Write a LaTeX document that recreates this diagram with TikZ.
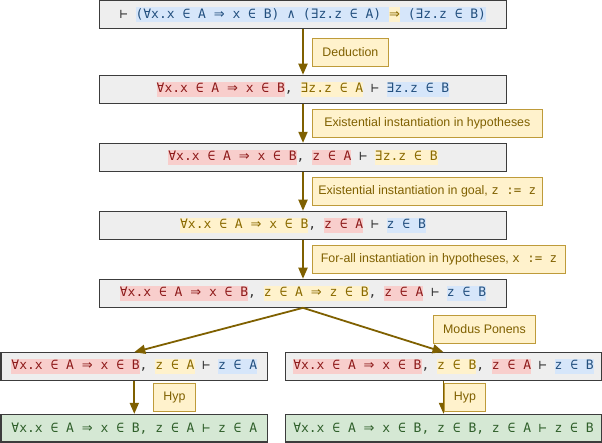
\documentclass[tikz,border=0pt]{standalone}
\usepackage{fontspec}
\setmainfont{Liberation Sans}
\newfontfamily\monof{DejaVu Sans Mono}
\newfontfamily\symf{DejaVu Sans}
\usetikzlibrary{arrows.meta}
\definecolor{boxgray}{HTML}{EEEEEE}
\definecolor{boxline}{HTML}{3C3C3C}
\definecolor{okgreen}{HTML}{D5E8D4}
\definecolor{txgreen}{HTML}{2F5F2A}
\definecolor{plain}{HTML}{333333}
\definecolor{hlred}{HTML}{F8CECC}
\definecolor{txred}{HTML}{8E1B1B}
\definecolor{hlblue}{HTML}{D6E6FA}
\definecolor{txblue}{HTML}{23507F}
\definecolor{hlyel}{HTML}{FFF2CC}
\definecolor{txyel}{HTML}{8A6A00}
\definecolor{lblfill}{HTML}{FFF2CC}
\definecolor{lblline}{HTML}{BE9B3A}
\definecolor{lbltext}{HTML}{7F6000}
\definecolor{arrc}{HTML}{7F6000}
\newcommand{\hstr}{\rule[-3.8pt]{0pt}{14.6pt}}
\newcommand{\hlbox}[3]{{\setlength{\fboxsep}{0pt}\colorbox{#1}{\hstr\textcolor{#2}{#3}}}}
\newcommand{\hlR}[1]{\hlbox{hlred}{txred}{#1}}
\newcommand{\hlB}[1]{\hlbox{hlblue}{txblue}{#1}}
\newcommand{\hlY}[1]{\hlbox{hlyel}{txyel}{#1}}
\newcommand{\imp}{{\symf ⇒}}
\begin{document}
\begin{tikzpicture}[x=1pt,y=-1pt,
  seqbox/.style={draw=boxline, fill=boxgray, line width=1.1pt, minimum width=407pt,
    minimum height=28pt, inner sep=0pt, text=plain,
    font=\monof\fontsize{13}{15}\selectfont},
  halfbox/.style={seqbox, minimum width=266.7pt, minimum height=27.6pt},
  widebox/.style={seqbox, minimum width=315.6pt, minimum height=27.6pt},
  donebox/.style={fill=okgreen, text=txgreen},
  lbl/.style={draw=lblline, fill=lblfill, text=lbltext, line width=1pt,
    minimum height=28pt, inner sep=0pt, font=\fontsize{12.4}{14}\selectfont},
  arr/.style={draw=arrc, line width=1.8pt, -{Triangle[width=9pt,length=11pt]}}
]
\useasboundingbox (0,0) rectangle (602,443);

\node[seqbox] (s1) at (303,14.7) {⊢ \hlB{(∀x.x ∈ A \imp{} x ∈ B) ∧ (∃z.z ∈ A)\ }\hlY{\imp}\hlB{\ (∃z.z ∈ B)}};
\node[seqbox] (s2) at (303,89.3) {\hlR{∀x.x ∈ A \imp{} x ∈ B}, \hlY{∃z.z ∈ A} ⊢ \hlB{∃z.z ∈ B}};
\node[seqbox] (s3) at (303,157.4) {\hlR{∀x.x ∈ A \imp{} x ∈ B}, \hlR{z ∈ A} ⊢ \hlY{∃z.z ∈ B}};
\node[seqbox] (s4) at (303,225.3) {\hlY{∀x.x ∈ A \imp{} x ∈ B}, \hlR{z ∈ A} ⊢ \hlB{z ∈ B}};
\node[seqbox] (s5) at (303,293.3) {\hlR{∀x.x ∈ A \imp{} x ∈ B}, \hlY{z ∈ A \imp{} z ∈ B}, \hlR{z ∈ A} ⊢ \hlB{z ∈ B}};
\node[halfbox] (l1) at (134.3,366.5) {\hlR{∀x.x ∈ A \imp{} x ∈ B}, \hlY{z ∈ A} ⊢ \hlB{z ∈ A}};
\node[widebox] (r1) at (443.5,366.5) {\hlR{∀x.x ∈ A \imp{} x ∈ B}, \hlY{z ∈ B}, \hlR{z ∈ A} ⊢ \hlB{z ∈ B}};
\node[halfbox, donebox] (l2) at (134.3,428.2) {∀x.x ∈ A \imp{} x ∈ B, z ∈ A ⊢ z ∈ A};
\node[widebox, donebox] (r2) at (443.5,428.2) {∀x.x ∈ A \imp{} x ∈ B, z ∈ B, z ∈ A ⊢ z ∈ B};

\draw[arr] (s1) -- (s2);
\draw[arr] (s2) -- (s3);
\draw[arr] (s3) -- (s4);
\draw[arr] (s4) -- (s5);
\draw[arr] (s5.south) -- (l1.north);
\draw[arr] (s5.south) -- (r1.north);
\draw[arr] (l1) -- (l2);
\draw[arr] (r1) -- (r2);

\node[lbl, minimum width=75.8pt] (t1) at (350.4,52.3) {Deduction};
\node[lbl, minimum width=230pt] (t2) at (427.3,123.2) {Existential instantiation in hypotheses};
\node[lbl, minimum width=230pt] (t3) at (427.3,191.3) {Existential instantiation in goal, {\monof z := z}};
\node[lbl, minimum width=253.4pt] (t4) at (439,259.2) {For-all instantiation in hypotheses, {\monof x := z}};
\node[lbl, minimum width=102.4pt, minimum height=27.6pt] (t5) at (484.5,329.5) {Modus Ponens};
\node[lbl, minimum width=42.4pt] (t6) at (174.5,397.7) {Hyp};
\node[lbl, minimum width=41.4pt] (t7) at (465,397.5) {Hyp};
\end{tikzpicture}
\end{document}
